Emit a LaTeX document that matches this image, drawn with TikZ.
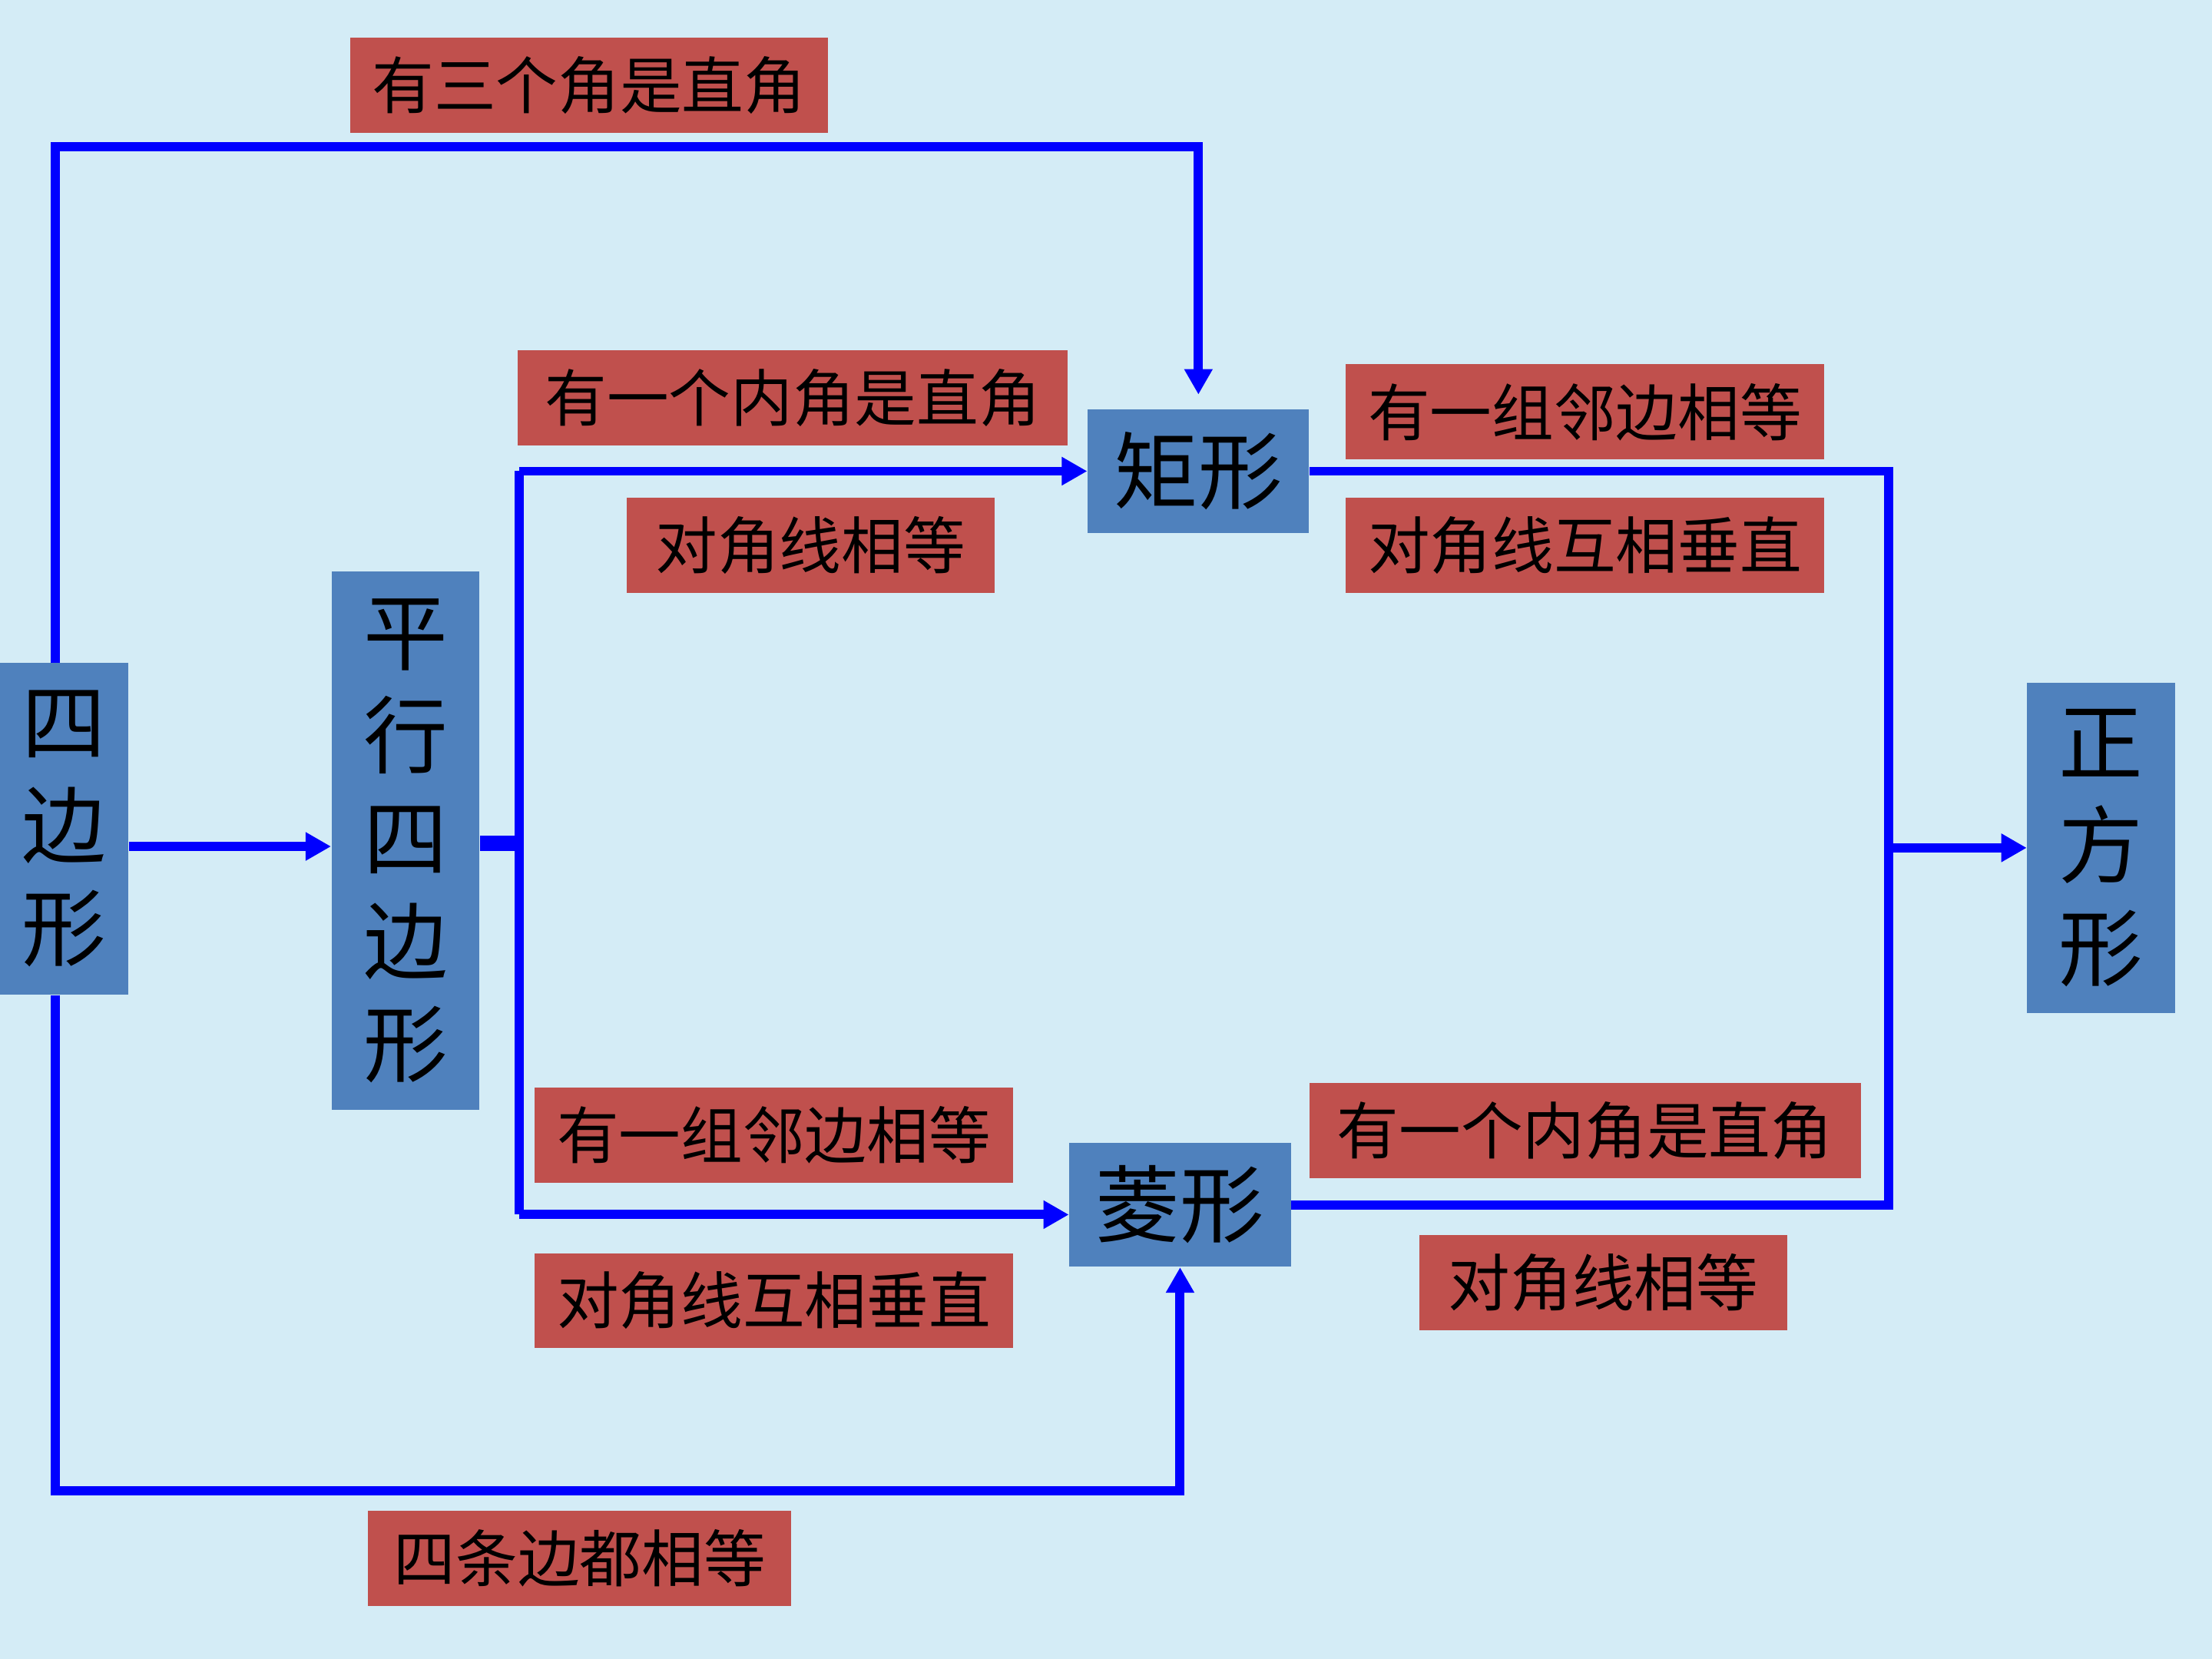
\documentclass[tikz,border=0pt]{standalone}
\usepackage{fontspec}
\newfontfamily\cjk{Noto Sans CJK SC}
\usetikzlibrary{arrows.meta}
\definecolor{bgc}{RGB}{212,236,246}
\definecolor{boxblue}{RGB}{79,129,189}
\definecolor{labred}{RGB}{192,80,77}
\definecolor{linblue}{RGB}{0,0,255}
\tikzset{
  shapebox/.style={fill=boxblue, inner sep=0pt, align=center, font=\cjk\fontsize{34}{41.5}\selectfont},
  labbox/.style={fill=labred, inner sep=0pt, minimum height=1.35cm, font=\cjk\fontsize{25}{29}\selectfont},
  conn/.style={draw=linblue, line width=0.13cm, line join=miter},
  arr/.style={conn, -{Triangle[width=0.38cm,length=0.36cm]}}
}
\begin{document}
\begin{tikzpicture}[x=0.02cm,y=-0.02cm]
\fill[bgc] (0,0) rectangle (1568,1176);
\useasboundingbox (0,0) rectangle (1568,1176);
% shape boxes
\node[shapebox, minimum width=1.82cm, minimum height=4.70cm] (q) at (45.5,587.5) {四\\边\\形};
\node[shapebox, minimum width=2.10cm, minimum height=7.64cm] (p) at (287.5,596) {平\\行\\四\\边\\形};
\node[shapebox, minimum width=3.14cm, minimum height=1.76cm] (r) at (849.5,334) {矩形};
\node[shapebox, minimum width=3.14cm, minimum height=1.76cm] (l) at (836.5,854) {菱形};
\node[shapebox, minimum width=2.10cm, minimum height=4.68cm] (s) at (1489.5,601) {正\\方\\形};
% labels
\node[labbox, minimum width=6.78cm] (l1) at (417.5,60.5) {有三个角是直角};
\node[labbox, minimum width=7.80cm] (l2) at (562,282) {有一个内角是直角};
\node[labbox, minimum width=5.22cm] (l3) at (574.5,386.5) {对角线相等};
\node[labbox, minimum width=6.78cm] (l4) at (1123.5,292) {有一组邻边相等};
\node[labbox, minimum width=6.78cm] (l5) at (1123.5,386.5) {对角线互相垂直};
\node[labbox, minimum width=6.78cm] (l6) at (548.5,804.5) {有一组邻边相等};
\node[labbox, minimum width=6.78cm] (l7) at (548.5,922) {对角线互相垂直};
\node[labbox, minimum width=7.82cm] (l8) at (1123.5,801.5) {有一个内角是直角};
\node[labbox, minimum width=5.22cm] (l9) at (1136.5,909) {对角线相等};
\node[labbox, minimum width=6.00cm] (l10) at (411,1104.5) {四条边都相等};
% coordinates
\coordinate (topy) at (0,104);
\coordinate (boty) at (0,1057);
\coordinate (qx) at (39,0);
\coordinate (jx) at (368,0);
\coordinate (rx) at (1339,0);
\coordinate (mid) at (0,600);
\coordinate (lowy) at (0,861);
\coordinate (sy) at (0,601);
% connectors
\draw[arr, shorten >=0.2cm] (qx |- q.north) -- (qx |- topy) -| (r.north);
\draw[arr] (qx |- q.south) -- (qx |- boty) -| (l.south);
\draw[arr] (q.east |- mid) -- (p.west |- mid);
\draw[draw=linblue, line width=0.22cm] (p.east |- 0,598) -- ([xshift=0.06cm]jx |- 0,598);
\draw[conn] (jx |- r.west) -- (jx |- lowy);
\draw[arr] (jx |- r.west) -- (r.west);
\draw[arr] (jx |- lowy) -- (l.west |- lowy);
\draw[conn] (r.east) -| (rx |- l.east) -- (l.east);
\draw[arr] (rx |- sy) -- (s.west);
\end{tikzpicture}
\end{document}
